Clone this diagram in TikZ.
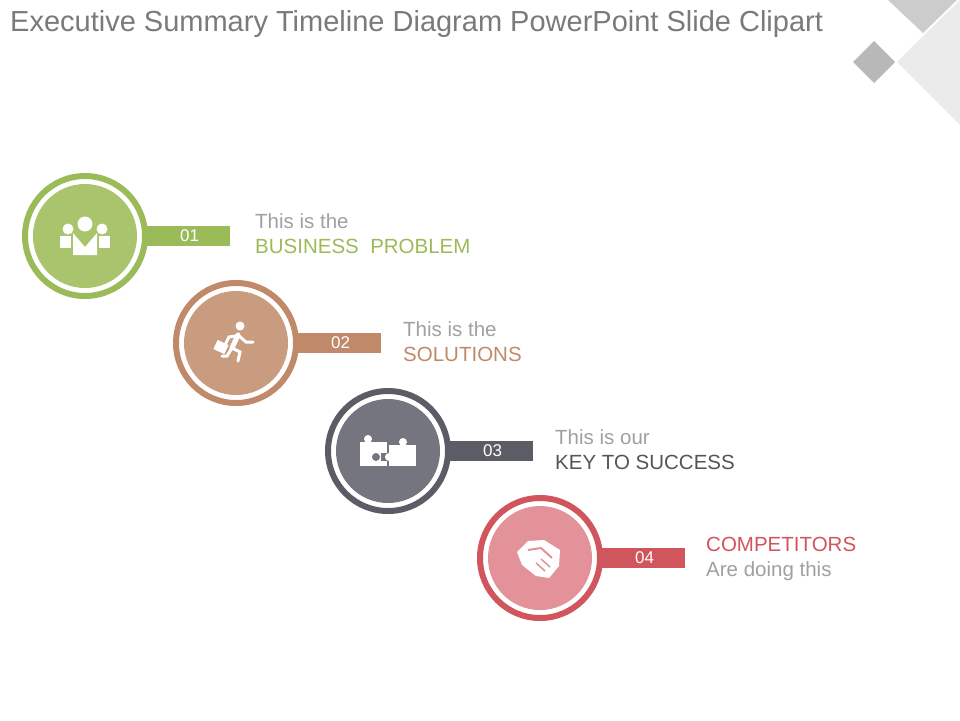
\documentclass[tikz,border=0pt]{standalone}
\usepackage{fontspec}
\setmainfont{Liberation Sans}
\definecolor{gA}{HTML}{9BBB59}\definecolor{gAf}{HTML}{A9C46C}
\definecolor{bA}{HTML}{C0896A}\definecolor{bAf}{HTML}{C99C80}
\definecolor{dA}{HTML}{5C5C66}\definecolor{dAf}{HTML}{75757F}
\definecolor{rA}{HTML}{D0555C}\definecolor{rAf}{HTML}{E3929A}
\definecolor{txt}{HTML}{A0A0A0}\definecolor{ttl}{HTML}{7A7A7A}
\definecolor{dk}{HTML}{555555}
\tikzset{
 ring/.style={circle,draw=#1,line width=6pt,minimum size=120pt,inner sep=0pt},
 disc/.style={circle,fill=#1,minimum size=104pt,inner sep=0pt},
 bar/.style={fill=#1,minimum height=20pt,inner sep=0pt,text=white,font=\fontsize{17}{17}\selectfont},
 lab/.style={anchor=north west,align=left,font=\fontsize{20.5}{25}\selectfont,inner sep=0pt},
 ico/.style={fill=white}
}
\begin{document}
\begin{tikzpicture}[x=1pt,y=-1pt]
\useasboundingbox (0,0) rectangle (960,720);
% corner decoration
\fill[black!20] (888,0)--(957,0)--(923,33)--cycle;
\fill[black!8] (923,36)--(960,0)--(960,125)--(897,62)--cycle;
\fill[black!28] (874,41)--(895,62)--(874,83)--(853,62)--cycle;
\node[anchor=west,text=ttl,font=\fontsize{29}{29}\selectfont,inner sep=0pt] (title) at (10,24) {Executive Summary Timeline Diagram PowerPoint Slide Clipart};
% items
\foreach \n/\x/\y/\c/\f/\num in {1/85/236/gA/gAf/01,2/236/343/bA/bAf/02,3/388/451/dA/dAf/03,4/540/558/rA/rAf/04}{
 \node[bar=\c,minimum width=85pt] (b\n) at (\x+102.5,\y) {\hspace*{4pt}\num};
 \node[disc=\f] (d\n) at (\x,\y) {};
 \node[ring=\c] (c\n) at (\x,\y) {};
}
\node[lab,text=txt] (t1) at (255,213) {This is the\\\textcolor{gA}{BUSINESS\ \ PROBLEM}};
\node[lab,text=txt] (t2) at (403,321) {This is the\\\textcolor{bA}{SOLUTIONS}};
\node[lab,text=txt] (t3) at (555,429) {This is our\\\textcolor{dk}{KEY TO SUCCESS}};
\node[lab,text=txt] (t4) at (706,537) {\textcolor{rA}{COMPETITORS}\\Are doing this};
% icon 1: people
\fill[ico] (85,224) circle (7.5);
\fill[ico] (68,229) circle (5.5);\fill[ico] (102,229) circle (5.5);
\fill[ico] (60,236) rectangle (71,248);\fill[ico] (99,236) rectangle (110,248);
\fill[ico] (73,233)--(85,247)--(97,233)--(97,255)--(73,255)--cycle;
% icon 2: runner
\fill[ico] (240,326) circle (4.5);
\draw[white,line width=5pt,line cap=round] (238,335)--(232,348);
\draw[white,line width=3pt,line cap=round] (238,335)--(246,342)--(253,342);
\draw[white,line width=3pt,line cap=round] (236,336)--(229,337)--(226,343);
\draw[white,line width=3pt,line cap=round] (232,348)--(240,352)--(238,361);
\draw[white,line width=3pt,line cap=round] (232,348)--(227,356)--(222,356);
\fill[ico,rotate around={-25:(221,347)}] (215,342) rectangle (227,352);
% icon 3: puzzle
\fill[ico] (360,442) rectangle (387,466);
\fill[ico] (389,445) rectangle (416,466);
\fill[ico] (368,439) circle (4);\fill[ico] (403,442) circle (4);
\fill[dAf] (376,457) circle (4);\fill[dAf] (381,453) rectangle (389,461);
\fill[ico] (389,457) circle (4);
% icon 4: handshake
\fill[ico] (517,552)--(528,541)--(544,540)--(560,550)--(559,566)--(549,578)--(536,576)--(522,565)--cycle;
\draw[rAf,line width=2pt] (528,550)--(541,548)--(552,558);
\draw[rAf,line width=1.5pt] (536,563)--(545,571) (541,559)--(550,567);
\end{tikzpicture}
\end{document}
